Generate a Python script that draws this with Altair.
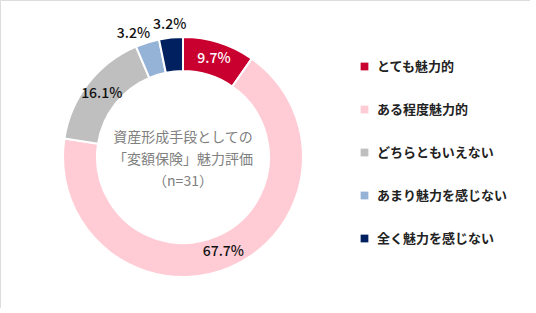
import altair as alt
import pandas as pd

categories = ["とても魅力的", "ある程度魅力的", "どちらともいえない", "あまり魅力を感じない", "全く魅力を感じない"]
values = [9.7, 67.7, 16.1, 3.2, 3.2]
labels = ["9.7%", "67.7%", "16.1%", "3.2%", "3.2%"]
colors = ["#C9002F", "#FFCCD6", "#BFBFBF", "#95B3D7", "#002060"]
label_place = ["in", "in", "in", "out", "out"]
label_color = ["#FFFFFF", "#111111", "#111111", "#111111", "#111111"]
center_text = ["資産形成手段としての", "「変額保険」魅力評価", "（n=31）"]

df = pd.DataFrame({
    "cat": categories,
    "val": values,
    "label": labels,
    "order": list(range(len(categories))),
    "place": label_place,
    "lc": label_color,
})

FONT = "Noto Sans CJK JP"
CX, CY = 183, 157

base = alt.Chart(df).encode(
    theta=alt.Theta("val:Q", stack=True),
    order=alt.Order("order:Q"),
)

arcs = base.mark_arc(innerRadius=86, outerRadius=120, stroke="white", strokeWidth=2).encode(
    color=alt.Color(
        "cat:N",
        scale=alt.Scale(domain=categories, range=colors),
        sort=categories,
        legend=alt.Legend(
            title=None,
            orient="none",
            legendX=358,
            legendY=60,
            symbolType="square",
            symbolSize=60,
            symbolStrokeWidth=0,
            labelFont=FONT,
            labelFontSize=13,
            labelFontWeight="bold",
            labelColor="#222222",
            rowPadding=29,
            labelOffset=6,
        ),
    ),
    x=alt.value(CX),
    y=alt.value(CY),
)

inner_labels = base.transform_calculate(
    t="datum.place == 'in' ? datum.label : ''"
).mark_text(radius=103, font=FONT, fontSize=14, fontWeight=500).encode(
    text="t:N",
    color=alt.Color("lc:N", scale=None),
    x=alt.value(CX),
    y=alt.value(CY),
)

outer_a = base.transform_calculate(
    t="datum.place == 'out' && datum.order == 3 ? datum.label : ''"
).mark_text(radius=133, font=FONT, fontSize=14, fontWeight=500, color="#111111", dx=-10, dy=4).encode(
    text="t:N",
    x=alt.value(CX),
    y=alt.value(CY),
)

outer_b = base.transform_calculate(
    t="datum.place == 'out' && datum.order == 4 ? datum.label : ''"
).mark_text(radius=133, font=FONT, fontSize=14, fontWeight=500, color="#111111").encode(
    text="t:N",
    x=alt.value(CX),
    y=alt.value(CY),
)

center = alt.Chart(pd.DataFrame({"t": ["\n".join(center_text)]})).mark_text(
    font=FONT, fontSize=14, color="#808080", lineBreak="\n", lineHeight=22, baseline="middle"
).encode(
    text="t:N",
    x=alt.value(CX),
    y=alt.value(138),
)

chart = alt.layer(arcs, inner_labels, outer_a, outer_b, center).properties(
    width=530, height=308, padding=0, autosize=alt.AutoSizeParams(type="none")
).configure_view(stroke=None).configure(background="white")

chart.save("out.html", embed_options={"renderer": "svg", "actions": False})
